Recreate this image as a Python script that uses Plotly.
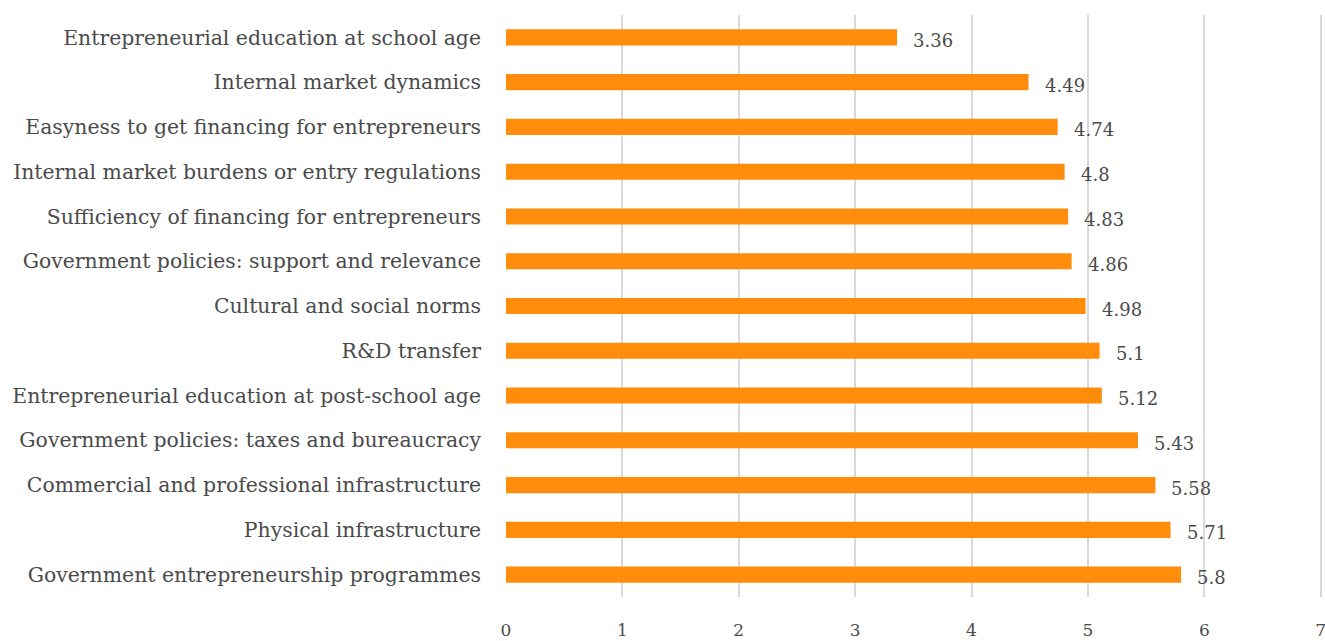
import plotly.graph_objects as go

categories = [
    "Government entrepreneurship programmes",
    "Physical infrastructure",
    "Commercial and professional infrastructure",
    "Government policies: taxes and bureaucracy",
    "Entrepreneurial education at post-school age",
    "R&D transfer",
    "Cultural and social norms",
    "Government policies: support and relevance",
    "Sufficiency of financing for entrepreneurs",
    "Internal market burdens or entry regulations",
    "Easyness to get financing for entrepreneurs",
    "Internal market dynamics",
    "Entrepreneurial education at school age",
]
values = [5.8, 5.71, 5.58, 5.43, 5.12, 5.1, 4.98, 4.86, 4.83, 4.8, 4.74, 4.49, 3.36]
value_labels = ["5.8", "5.71", "5.58", "5.43", "5.12", "5.1", "4.98", "4.86", "4.83", "4.8", "4.74", "4.49", "3.36"]
x_ticks = [0, 1, 2, 3, 4, 5, 6, 7]

FONT = "DejaVu Serif"
TXT = "#4a4a4a"

fig = go.Figure()
fig.add_trace(go.Bar(
    x=values, y=categories, orientation="h",
    marker=dict(color="#FF8C0A", line=dict(width=0)),
    width=0.36,
    hoverinfo="x+y",
))

annotations = []
for v, c, t in zip(values, categories, value_labels):
    annotations.append(dict(
        x=v, y=c, text=t, xref="x", yref="y",
        xanchor="left", yanchor="middle", showarrow=False,
        xshift=14, yshift=-3,
        font=dict(family=FONT, size=18, color=TXT),
    ))

fig.update_layout(
    width=1325, height=641,
    margin=dict(l=506, r=2, t=15, b=44, autoexpand=False),
    paper_bgcolor="white", plot_bgcolor="white",
    showlegend=False,
    annotations=annotations,
    xaxis=dict(
        range=[0, 7.02], tickvals=x_ticks, ticktext=[str(t) for t in x_ticks],
        showgrid=True, gridcolor="#d9d9d9", gridwidth=1.5,
        zeroline=False, showline=False, automargin=False,
        ticks="", ticklabelstandoff=21, ticklabeloverflow="allow",
        tickfont=dict(family=FONT, size=17, color=TXT),
    ),
    yaxis=dict(
        categoryorder="array", categoryarray=categories,
        showgrid=False, zeroline=False, showline=False, automargin=False,
        ticks="", ticklabelstandoff=24,
        tickfont=dict(family=FONT, size=20.4, color=TXT),
    ),
)

fig.write_html(
    "out.html",
    config={"displayModeBar": False},
    post_script="document.body.style.margin='0px';document.body.style.overflow='hidden';",
)
